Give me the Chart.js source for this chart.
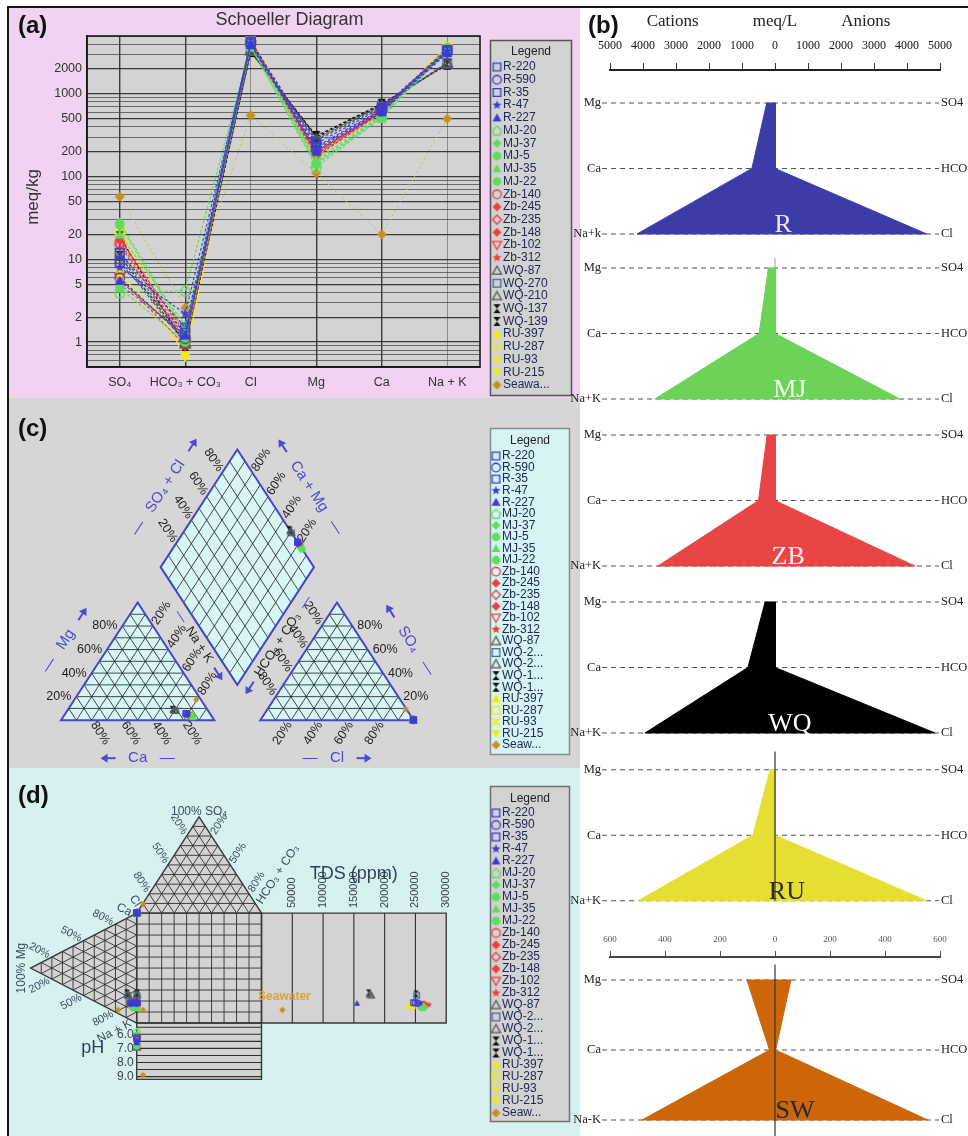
<!DOCTYPE html>
<html>
<head>
<meta charset="utf-8">
<title>Hydrochemical diagrams of brine samples</title>
<script src="https://cdn.jsdelivr.net/npm/chart.js"></script>
<style>
  html, body { margin: 0; padding: 0; background: #ffffff; }
  body { position: relative; width: 968px; height: 1136px; overflow: hidden; }
  .blk { position: absolute; }
  canvas { position: absolute; }
</style>
</head>
<body>
<div class="blk" style="left:8px;top:6px;width:960px;height:2px;background:#151515"></div>
<div class="blk" style="left:7px;top:6px;width:2px;height:1130px;background:#151515"></div>
<div class="blk" style="left:9px;top:8px;width:571px;height:390px;background:#f1d3f1"></div>
<div class="blk" style="left:9px;top:398px;width:571px;height:370px;background:#d6d6d6"></div>
<div class="blk" style="left:9px;top:768px;width:571px;height:368px;background:#d7f1f1"></div>
<canvas id="schoeller" width="580" height="400" style="left:0;top:0"></canvas>
<canvas id="piper" width="580" height="370" style="left:0;top:398px"></canvas>
<canvas id="durov" width="580" height="368" style="left:0;top:768px"></canvas>
<canvas id="stiff" width="402" height="915" style="left:566px;top:0"></canvas>
<canvas id="stiffSW" width="402" height="221" style="left:566px;top:915px"></canvas>
<script>
// ---------------- data (meq/kg) ----------------
const ions = ['SO\u2084', 'HCO\u2083 + CO\u2083', 'Cl', 'Mg', 'Ca', 'Na + K'];
const samples = ['R-220','R-590','R-35','R-47','R-227','MJ-20','MJ-37','MJ-5','MJ-35','MJ-22',
  'Zb-140','Zb-245','Zb-235','Zb-148','Zb-102','Zb-312','WQ-87','WQ-270','WQ-210','WQ-137','WQ-139',
  'RU-397','RU-287','RU-93','RU-215','Seawater'];
const so4  = [9, 6, 12, 8, 5.5, 4, 28, 4.5, 20, 26, 16, 5, 15, 17, 6, 18, 11, 12, 10, 19, 11, 7, 22, 6.5, 20, 57];
const hco3 = [1.3, 1.1, 1.5, 2.2, 1.2, 4.2, 1.4, 1.0, 1.6, 1.3, 1.1, 1.2, 1.0, 1.3, 0.9, 1.2, 1.0, 1.1, 0.95, 0.9, 1.0, 0.75, 1.4, 1.2, 0.65, 2.6];
const cl   = [4200, 4000, 4300, 4100, 3900, 3800, 4400, 3700, 4200, 4100, 4300, 4000, 4200, 4400, 3900, 4500, 3400, 3300, 3350, 3200, 3250, 4600, 4500, 4400, 4700, 550];
const mg   = [230, 210, 250, 220, 200, 130, 150, 140, 160, 145, 190, 180, 200, 185, 175, 195, 280, 270, 290, 310, 300, 190, 200, 180, 195, 110];
const ca   = [650, 620, 680, 640, 600, 520, 540, 510, 560, 530, 620, 600, 630, 610, 590, 640, 720, 700, 730, 760, 740, 590, 610, 600, 600, 20];
const nak  = [3300, 3200, 3400, 3300, 3100, 3500, 3600, 3400, 3500, 3550, 3500, 3400, 3450, 3550, 3350, 3600, 2400, 2350, 2300, 2250, 2300, 3700, 3700, 3650, 3750, 500];
const tds  = [250000, 254000, 247000, 258000, 155000, 262000, 266000, 258000, 264000, 260000,
  262000, 258000, 264000, 268000, 256000, 272000, 178000, 252000, 176000, 174000, 251000,
  240000, 244000, 246000, 238000, 34000];
const ph   = [6.3, 6.4, 6.2, 6.5, 6.6, 5.8, 6.0, 6.9, 6.1, 6.8, 6.2, 6.3, 6.1, 6.4, 6.2, 6.3,
  6.9, 6.8, 6.9, 6.8, 6.9, 6.0, 6.1, 6.2, 6.05, 8.9];

// legend texts as printed in each panel
const legendA  = ['R-220','R-590','R-35','R-47','R-227','MJ-20','MJ-37','MJ-5','MJ-35','MJ-22',
  'Zb-140','Zb-245','Zb-235','Zb-148','Zb-102','Zb-312','WQ-87','WQ-270','WQ-210','WQ-137','WQ-139',
  'RU-397','RU-287','RU-93','RU-215','Seawa...'];
const legendCD = ['R-220','R-590','R-35','R-47','R-227','MJ-20','MJ-37','MJ-5','MJ-35','MJ-22',
  'Zb-140','Zb-245','Zb-235','Zb-148','Zb-102','Zb-312','WQ-87','WQ-2...','WQ-2...','WQ-1...','WQ-1...',
  'RU-397','RU-287','RU-93','RU-215','Seaw...'];

// Stiff diagram group means (meq/L)
const stiffNames = ['R', 'MJ', 'ZB', 'WQ', 'RU', 'SW'];
const stiffMg   = [250, 200, 240, 300, 150, 102];
const stiffCa   = [700, 480, 500, 820, 670, 20];
const stiffNaK  = [4180, 3640, 3550, 3940, 4150, 484];
const stiffSO4  = [15, 20, 15, 15, 15, 58];
const stiffHCO3 = [2, 2, 2, 2, 2, 2.4];
const stiffCl   = [4600, 3790, 4240, 4850, 4600, 556];

// tick labels
const schoellerTickLabels = [1, 2, 5, 10, 20, 50, 100, 200, 500, 1000, 2000];
const piperPct = [20, 40, 60, 80];
const durovPct = [20, 50, 80];
const tdsTicks = [50000, 100000, 150000, 200000, 250000, 300000];
const phTicks  = [6, 7, 8, 9];

// ---------------- styles ----------------
const SANS = "'Liberation Sans', Arial, sans-serif";
const SERIF = "'Liberation Serif', 'Times New Roman', serif";
Chart.defaults.font.family = SANS;
Chart.defaults.animation = false;
Chart.defaults.events = [];
Chart.defaults.plugins.legend.display = false;
Chart.defaults.plugins.tooltip.enabled = false;

const BLUE = '#3b3bd6', GREEN = '#5cde5c', RED = '#f03c3c', GREY = '#555555', NAVY = '#4a6694',
      BLACK = '#111111', YELLOW = '#f0ee00', SEA = '#c8901a';
const markerSpec = [
  ['square', BLUE, false], ['circle', BLUE, false], ['square', BLUE, false], ['star', BLUE, true], ['triangle', BLUE, true],
  ['house', GREEN, false], ['diamond', GREEN, true], ['circle', GREEN, true], ['triangle', GREEN, true], ['circle', GREEN, true],
  ['circle', RED, false], ['diamond', RED, true], ['diamond', RED, false], ['diamond', RED, true], ['triDown', RED, false], ['star', RED, true],
  ['triangle', GREY, false], ['square', NAVY, false], ['triangle', GREY, false], ['hourglass', BLACK, true], ['hourglass', BLACK, true],
  ['triangle', YELLOW, true], ['square', YELLOW, false], ['cross', YELLOW, false], ['triDown', YELLOW, true],
  ['diamond', SEA, true]
];
const SEA_INDEX = 25;

function makeMarker(shape, color, filled, r) {
  const s = Math.ceil(r * 2 + 4);
  const c = document.createElement('canvas');
  c.width = s; c.height = s;
  const g = c.getContext('2d');
  g.translate(s / 2, s / 2);
  g.lineWidth = 1.3; g.strokeStyle = color; g.fillStyle = color;
  g.beginPath();
  switch (shape) {
    case 'square': g.rect(-r * 0.85, -r * 0.85, r * 1.7, r * 1.7); break;
    case 'circle': g.arc(0, 0, r * 0.95, 0, Math.PI * 2); break;
    case 'triangle': g.moveTo(0, -r); g.lineTo(r, r * 0.8); g.lineTo(-r, r * 0.8); g.closePath(); break;
    case 'triDown': g.moveTo(0, r); g.lineTo(r, -r * 0.8); g.lineTo(-r, -r * 0.8); g.closePath(); break;
    case 'diamond': g.moveTo(0, -r); g.lineTo(r, 0); g.lineTo(0, r); g.lineTo(-r, 0); g.closePath(); break;
    case 'star':
      for (let k = 0; k < 10; k++) {
        const a = -Math.PI / 2 + k * Math.PI / 5, rr = k % 2 ? r * 0.45 : r * 1.05;
        g.lineTo(Math.cos(a) * rr, Math.sin(a) * rr);
      }
      g.closePath(); break;
    case 'house': g.moveTo(0, -r); g.lineTo(r, -0.1 * r); g.lineTo(r * 0.7, r); g.lineTo(-r * 0.7, r); g.lineTo(-r, -0.1 * r); g.closePath(); break;
    case 'hourglass': g.moveTo(-r * 0.8, -r); g.lineTo(r * 0.8, -r); g.lineTo(-r * 0.8, r); g.lineTo(r * 0.8, r); g.closePath(); break;
    case 'cross': g.lineWidth = 2; g.moveTo(-r * 0.8, -r * 0.8); g.lineTo(r * 0.8, r * 0.8); g.moveTo(r * 0.8, -r * 0.8); g.lineTo(-r * 0.8, r * 0.8); break;
  }
  if (filled && shape !== 'cross') g.fill(); else g.stroke();
  return c;
}
const markersBig   = markerSpec.map(m => makeMarker(m[0], m[1], m[2], 5));
const markersLeg   = markerSpec.map(m => makeMarker(m[0], m[1], m[2], 4.5));
const markersSmall = markerSpec.map(m => makeMarker(m[0], m[1], m[2], 3.2));

// ---------------- drawing helpers ----------------
function lerp(U, V, t) { return [U[0] + (V[0] - U[0]) * t, U[1] + (V[1] - U[1]) * t]; }
function pathPoly(ctx, pts) {
  ctx.beginPath();
  pts.forEach((p, k) => k ? ctx.lineTo(p[0], p[1]) : ctx.moveTo(p[0], p[1]));
  ctx.closePath();
}
function seg(ctx, p, q) { ctx.beginPath(); ctx.moveTo(p[0], p[1]); ctx.lineTo(q[0], q[1]); ctx.stroke(); }
function triGrid(ctx, P, A, B, C, n) {
  [[A, B, C], [B, C, A], [C, A, B]].forEach(([V, U, W]) => {
    for (let k = 1; k < n; k++) seg(ctx, P(lerp(V, U, k / n)), P(lerp(V, W, k / n)));
  });
}
// text laid along a direction (dx, dy) starting a little off point p
function rayText(ctx, p, dir, text, gap) {
  let [dx, dy] = dir; const len = Math.hypot(dx, dy); dx /= len; dy /= len;
  ctx.save();
  ctx.translate(p[0] + dx * gap, p[1] + dy * gap);
  if (dx >= -1e-6) { ctx.rotate(Math.atan2(dy, dx)); ctx.textAlign = 'left'; }
  else { ctx.rotate(Math.atan2(-dy, -dx)); ctx.textAlign = 'right'; }
  ctx.textBaseline = 'middle';
  ctx.fillText(text, 0, 0);
  ctx.restore();
}
// multi-part caption centred on (x, y) and rotated; parts are text runs or drawn arrows
const ARROW_LEN = 15;
function partsText(ctx, x, y, rot, parts, font) {
  ctx.save();
  ctx.translate(x, y); ctx.rotate(rot);
  ctx.font = font;
  const w = parts.map(p => (p[0] === '>' || p[0] === '<') ? ARROW_LEN : ctx.measureText(p[0]).width);
  let cx = -w.reduce((a, b) => a + b, 0) / 2;
  ctx.textAlign = 'left'; ctx.textBaseline = 'middle';
  parts.forEach((p, k) => {
    ctx.fillStyle = p[1]; ctx.strokeStyle = p[1];
    if (p[0] === '>' || p[0] === '<') {
      const tip = p[0] === '>' ? cx + w[k] : cx, tail = p[0] === '>' ? cx : cx + w[k], s = p[0] === '>' ? -1 : 1;
      ctx.lineWidth = 2;
      ctx.beginPath(); ctx.moveTo(tail, 0); ctx.lineTo(tip + s * 3, 0); ctx.stroke();
      ctx.beginPath(); ctx.moveTo(tip, 0); ctx.lineTo(tip + s * 7, -4.5); ctx.lineTo(tip + s * 7, 4.5); ctx.closePath(); ctx.fill();
    } else {
      ctx.fillText(p[0], cx, 0);
    }
    cx += w[k];
  });
  ctx.restore();
}
// title placed beside an edge p->q, pushed away from a centre point
function edgeTitle(ctx, P, p, q, frac, dist, centre, parts, font) {
  const a = P(p), b = P(q), c = P(centre);
  const m = [a[0] + (b[0] - a[0]) * frac, a[1] + (b[1] - a[1]) * frac];
  let nx = -(b[1] - a[1]), ny = b[0] - a[0];
  const l = Math.hypot(nx, ny); nx /= l; ny /= l;
  if (nx * (m[0] - c[0]) + ny * (m[1] - c[1]) < 0) { nx = -nx; ny = -ny; }
  partsText(ctx, m[0] + nx * dist, m[1] + ny * dist, Math.atan2(b[1] - a[1], b[0] - a[0]), parts, font);
}
function drawLegend(ctx, box, labels, markers) {
  ctx.save();
  ctx.fillStyle = box.bg;
  ctx.fillRect(box.x0, box.y0, box.x1 - box.x0, box.y1 - box.y0);
  ctx.strokeStyle = box.edge; ctx.lineWidth = 1.5;
  ctx.strokeRect(box.x0 + 0.5, box.y0 + 0.5, box.x1 - box.x0 - 1, box.y1 - box.y0 - 1);
  ctx.font = '12px ' + SANS; ctx.fillStyle = '#222';
  ctx.textAlign = 'center'; ctx.textBaseline = 'middle';
  ctx.fillText('Legend', (box.x0 + box.x1) / 2, box.titleY);
  ctx.textAlign = 'left';
  labels.forEach((lab, k) => {
    const y = box.firstY + k * box.step, m = markers[k];
    ctx.drawImage(m, box.mx - m.width / 2, y - m.height / 2);
    ctx.fillStyle = '#202a58';
    ctx.fillText(lab, box.tx, y);
  });
  ctx.restore();
}
function panelTag(ctx, tag, x, y) {
  ctx.save();
  ctx.font = 'bold 24px ' + SANS; ctx.fillStyle = '#111';
  ctx.textAlign = 'left'; ctx.textBaseline = 'middle';
  ctx.fillText(tag, x, y);
  ctx.restore();
}

// ---------------- (a) Schoeller diagram ----------------
const schoellerGrid = [];
[0.1, 1, 10, 100, 1000].forEach(d => [1, 2, 3, 4, 5, 6, 7, 8, 9].forEach(m => {
  const v = +(m * d).toPrecision(3);
  if (v >= 0.5 && v <= 5000) schoellerGrid.push(v);
}));
const isLabelled = v => schoellerTickLabels.some(t => Math.abs(t - v) < t * 1e-6);
const lineColour = i => i === SEA_INDEX ? '#d9b25a' : markerSpec[i][1];

const schoellerDecor = {
  id: 'schoellerDecor',
  beforeDraw(chart) {
    const {ctx, chartArea: a} = chart;
    ctx.save(); ctx.fillStyle = '#d3d3d3';
    ctx.fillRect(a.left, a.top, a.right - a.left, a.bottom - a.top);
    ctx.restore();
  },
  beforeDatasetsDraw(chart) {
    const {ctx, chartArea: a} = chart;
    ctx.save(); ctx.strokeStyle = '#1a1a1a'; ctx.lineWidth = 1.6;
    ctx.strokeRect(a.left, a.top, a.right - a.left, a.bottom - a.top);
    ctx.restore();
  },
  afterDraw(chart) {
    const {ctx, chartArea: a} = chart;
    ctx.save();
    ctx.fillStyle = '#333'; ctx.textAlign = 'center'; ctx.textBaseline = 'middle';
    ctx.font = '18px ' + SANS;
    ctx.fillText('Schoeller Diagram', (a.left + a.right) / 2 + 6, 20);
    ctx.translate(33, 197); ctx.rotate(-Math.PI / 2);
    ctx.font = '17px ' + SANS; ctx.fillText('meq/kg', 0, 0);
    ctx.restore();
    panelTag(ctx, '(a)', 18, 26);
    drawLegend(ctx, {x0: 490, y0: 40, x1: 572, y1: 396, bg: '#d2d2d2', edge: '#555',
      titleY: 52, firstY: 67, step: 12.72, mx: 497, tx: 503}, legendA, markersLeg);
  }
};

new Chart(document.getElementById('schoeller'), {
  type: 'line',
  data: {
    labels: ions,
    datasets: samples.map((name, i) => ({
      label: name,
      data: [so4[i], hco3[i], cl[i], mg[i], ca[i], nak[i]],
      borderColor: lineColour(i),
      borderWidth: i === SEA_INDEX ? 1 : 1.1,
      borderDash: i === SEA_INDEX ? [2, 3] : [3, 2],
      pointStyle: markersBig[i],
      pointRadius: 5,
      fill: false,
      tension: 0
    }))
  },
  options: {
    responsive: false,
    layout: {padding: {left: 0, top: 36, right: 100, bottom: 0}},
    scales: {
      x: {
        offset: true,
        grid: {offset: false, drawTicks: false,
          color: c => [2, 5].includes(c.index) ? '#8c8c8c' : '#3c3c3c',
          lineWidth: c => [2, 5].includes(c.index) ? 1 : 1.4},
        border: {display: true, color: '#111', width: 1.6},
        ticks: {color: '#333', font: {size: 12.5}, padding: 8, maxRotation: 0, autoSkip: false},
        afterFit(s) { s.height = 33; }
      },
      y: {
        type: 'logarithmic', min: 0.5, max: 5000,
        afterBuildTicks(s) { s.ticks = schoellerGrid.map(v => ({value: v})); },
        ticks: {autoSkip: false, color: '#333', font: {size: 12.5}, padding: 5,
          callback: v => isLabelled(v) ? String(v) : ''},
        grid: {drawTicks: false,
          color: c => c.tick && isLabelled(c.tick.value) ? 'rgba(40,40,40,0.9)' : 'rgba(70,70,70,0.75)',
          lineWidth: c => c.tick && isLabelled(c.tick.value) ? 1.2 : 1},
        border: {display: true, color: '#111', width: 1.6},
        afterFit(s) { s.width = 87; }
      }
    }
  },
  plugins: [schoellerDecor]
});

// ---------------- shared ion shares ----------------
function ionShares(i) {
  const cat = ca[i] + mg[i] + nak[i], an = so4[i] + hco3[i] + cl[i];
  return {ca: 100 * ca[i] / cat, mg: 100 * mg[i] / cat, nak: 100 * nak[i] / cat,
          so4: 100 * so4[i] / an, hco3: 100 * hco3[i] / an, cl: 100 * cl[i] / an};
}

// ---------------- (c) Piper diagram ----------------
const H = 0.866;
const PIPER = {
  cat: [[0, 0], [100, 0], [50, 86.6]],
  an: [[130, 0], [230, 0], [180, 86.6]],
  dia: [[65, 112.58], [115, 199.18], [165, 112.58], [115, 25.98]]
};
function piperPoints(i) {
  const s = ionShares(i), a = s.so4 + s.cl, c = s.nak;
  return [
    {x: s.nak + s.mg / 2, y: s.mg * H},
    {x: 130 + s.cl + s.so4 / 2, y: s.so4 * H},
    {x: 65 + (a + c) / 2, y: 112.58 + (a - c) * H}
  ];
}
const PBLUE = '#4a4ad2', PDARK = '#1e1e1e';
const piperDecor = {
  id: 'piperDecor',
  beforeDatasetsDraw(chart) {
    const {ctx} = chart, sx = chart.scales.x, sy = chart.scales.y;
    const P = p => [sx.getPixelForValue(p[0]), sy.getPixelForValue(p[1])];
    const d = (p, q) => { const a = P(p), b = P(q); return [b[0] - a[0], b[1] - a[1]]; };
    const [A, B, C] = PIPER.cat, [A2, B2, C2] = PIPER.an, [L, T, R, Bd] = PIPER.dia;
    const shapes = [PIPER.cat, PIPER.an, PIPER.dia];
    ctx.save();
    ctx.fillStyle = '#d8f6f6';
    shapes.forEach(s => { pathPoly(ctx, s.map(P)); ctx.fill(); });
    ctx.strokeStyle = '#1c1c1c'; ctx.lineWidth = 0.8;
    triGrid(ctx, P, A, B, C, 10); triGrid(ctx, P, A2, B2, C2, 10);
    for (let k = 1; k < 10; k++) {
      const t = k / 10;
      seg(ctx, P(lerp(L, T, t)), P(lerp(Bd, R, t)));
      seg(ctx, P(lerp(L, Bd, t)), P(lerp(T, R, t)));
    }
    ctx.strokeStyle = '#4646c8'; ctx.lineWidth = 2;
    shapes.forEach(s => { pathPoly(ctx, s.map(P)); ctx.stroke(); });

    ctx.font = '12.5px ' + SANS; ctx.fillStyle = PDARK;
    piperPct.forEach(t => {
      const s = t + '%';
      rayText(ctx, P(lerp(A, C, t / 100)), [-1, 0], s, 5);
      rayText(ctx, P([100 - t, 0]), d(C, B), s, 3);
      rayText(ctx, P(lerp(C, B, t / 100)), d(A, C), s, 3);
      rayText(ctx, P(lerp(C2, A2, t / 100)), d(B2, C2), s, 3);
      rayText(ctx, P(lerp(B2, C2, t / 100)), [1, 0], s, 5);
      rayText(ctx, P([130 + t, 0]), d(C2, A2), s, 3);
      rayText(ctx, P(lerp(L, T, t / 100)), d(Bd, L), s, 3);
      rayText(ctx, P(lerp(R, T, t / 100)), d(L, T), s, 3);
    });
    const F = '15px ' + SANS, centreD = [115, 112.58], centreC = [50, 28.9], centreA = [180, 28.9];
    const fwd = (txt, col) => [['\u2014   ', PBLUE], [txt, col || PBLUE], ['   ', PBLUE], ['>', PBLUE]];
    const back = (txt, col) => [['<', PBLUE], ['   ' + txt + '   ', col || PBLUE], ['\u2014', PBLUE]];
    edgeTitle(ctx, P, L, T, 0.5, 40, centreD, fwd('SO\u2084 + Cl'), F);
    edgeTitle(ctx, P, T, R, 0.5, 40, centreD, back('Ca + Mg'), F);
    edgeTitle(ctx, P, A, C, 0.5, 40, centreC, fwd('Mg'), F);
    edgeTitle(ctx, P, A, B, 0.5, 38, centreC, back('Ca'), F);
    edgeTitle(ctx, P, C2, B2, 0.5, 40, centreA, back('SO\u2084'), F);
    edgeTitle(ctx, P, A2, B2, 0.5, 38, centreA, fwd('Cl'), F);
    edgeTitle(ctx, P, L, Bd, 0.62, 10, centreD,
      [['\u2014  ', PBLUE], ['Na + K', PDARK], ['  ', PBLUE], ['>', PBLUE]], '13px ' + SANS);
    edgeTitle(ctx, P, Bd, R, 0.39, 12, centreD,
      [['<', PBLUE], ['  HCO\u2083 + CO\u2083  ', PDARK], ['\u2014', PBLUE]], '13px ' + SANS);
    ctx.restore();
  },
  afterDraw(chart) {
    const {ctx} = chart;
    panelTag(ctx, '(c)', 18, 31);
    drawLegend(ctx, {x0: 490, y0: 30, x1: 570, y1: 357, bg: '#d6f4f4', edge: '#8a8a8a',
      titleY: 43, firstY: 58, step: 11.56, mx: 496, tx: 502}, legendCD, markersLeg);
  }
};
new Chart(document.getElementById('piper'), {
  type: 'scatter',
  data: {
    datasets: samples.map((name, i) => ({
      label: name, data: piperPoints(i), pointStyle: markersSmall[i], pointRadius: 4
    }))
  },
  options: {
    responsive: false,
    layout: {padding: 0},
    scales: {
      x: {type: 'linear', display: false, min: -36.54, max: 335.26},
      y: {type: 'linear', display: false, min: -31.5, max: 233.36}
    }
  },
  plugins: [piperDecor]
});

// ---------------- (d) Durov diagram ----------------
const DUROV = {T: [50, -87.6], BL: [0, 0], BR: [100, 0], CA: [0, 0], NK: [0, 100], MG: [-85, 50]};
const tdsX = v => 100 + v / 300000 * 148;
const phY = p => 100 + (p - 5.2) / 4 * 51.3;
function durovPoints(i) {
  const s = ionShares(i), ax = s.hco3 + s.so4 / 2, cy = s.nak + s.mg / 2;
  return [
    {x: ax, y: -s.so4 * 0.876},
    {x: -s.mg * 0.85, y: cy},
    {x: ax, y: cy},
    {x: tdsX(tds[i]), y: cy},
    {x: ax, y: phY(ph[i])}
  ];
}
const DTEXT = '#3a4c5c';
const durovDecor = {
  id: 'durovDecor',
  beforeDatasetsDraw(chart) {
    const {ctx} = chart, sx = chart.scales.x, sy = chart.scales.y;
    const P = p => [sx.getPixelForValue(p[0]), sy.getPixelForValue(p[1])];
    const d = (p, q) => { const a = P(p), b = P(q); return [b[0] - a[0], b[1] - a[1]]; };
    const {T, BL, BR, CA, NK, MG} = DUROV;
    const sq = [[0, 0], [100, 0], [100, 100], [0, 100]];
    const tdsRect = [[100, 0], [tdsX(300000), 0], [tdsX(300000), 100], [100, 100]];
    const phRect = [[0, 100], [100, 100], [100, phY(9.2)], [0, phY(9.2)]];
    const shapes = [[BL, BR, T], [CA, NK, MG], sq, tdsRect, phRect];
    ctx.save();
    ctx.fillStyle = '#d3d3d3';
    shapes.forEach(s => { pathPoly(ctx, s.map(P)); ctx.fill(); });
    ctx.strokeStyle = '#2f2f2f'; ctx.lineWidth = 0.9;
    triGrid(ctx, P, BL, BR, T, 10); triGrid(ctx, P, CA, NK, MG, 10);
    for (let k = 10; k < 100; k += 10) { seg(ctx, P([k, 0]), P([k, 100])); seg(ctx, P([0, k]), P([100, k])); }
    ctx.lineWidth = 1.1;
    tdsTicks.slice(0, -1).forEach(v => seg(ctx, P([tdsX(v), 0]), P([tdsX(v), 100])));
    for (let p = 5.5; p < 9.01; p += 0.5) seg(ctx, P([0, phY(p)]), P([100, phY(p)]));
    ctx.strokeStyle = '#3a3a3a'; ctx.lineWidth = 1.4;
    shapes.forEach(s => { pathPoly(ctx, s.map(P)); ctx.stroke(); });

    // triangle labels
    ctx.fillStyle = DTEXT; ctx.font = '11px ' + SANS;
    durovPct.forEach(t => {
      const s = t + '%';
      rayText(ctx, P(lerp(T, BL, t / 100)), d(BR, T), s, 3);
      rayText(ctx, P(lerp(T, BR, t / 100)), d(BL, T), s, 3);
      rayText(ctx, P(lerp(MG, CA, t / 100)), d(NK, MG), s, 3);
      rayText(ctx, P(lerp(MG, NK, t / 100)), d(CA, MG), s, 3);
    });
    ctx.font = '12px ' + SANS;
    rayText(ctx, P(lerp(T, BL, 0.95)), d(BR, T), 'Cl', 3);
    rayText(ctx, P(lerp(T, BR, 0.93)), d(BL, T), 'HCO\u2083 + CO\u2083', 4);
    rayText(ctx, P(lerp(MG, CA, 0.97)), d(NK, MG), 'Ca', 3);
    rayText(ctx, P(lerp(MG, NK, 0.97)), d(CA, MG), 'Na + K', 3);
    const apex = P(T);
    ctx.textAlign = 'center'; ctx.textBaseline = 'bottom';
    ctx.fillText('100% SO\u2084', apex[0], apex[1] + 1);
    const mgA = P(MG);
    ctx.save(); ctx.translate(mgA[0] - 9, mgA[1]); ctx.rotate(-Math.PI / 2);
    ctx.textBaseline = 'middle'; ctx.fillText('100% Mg', 0, 0); ctx.restore();

    // TDS axis
    ctx.font = '11px ' + SANS; ctx.fillStyle = '#3a4450';
    tdsTicks.forEach(v => {
      const p = P([tdsX(v), 0]);
      ctx.save(); ctx.translate(p[0], p[1] - 5); ctx.rotate(-Math.PI / 2);
      ctx.textAlign = 'left'; ctx.textBaseline = 'middle';
      ctx.fillText(String(v), 0, 0); ctx.restore();
    });
    const tc = P([tdsX(150000), 0]);
    ctx.font = '18px ' + SANS; ctx.fillStyle = '#2e3f5c';
    ctx.textAlign = 'center'; ctx.textBaseline = 'middle';
    ctx.fillText('TDS (ppm)', tc[0], tc[1] - 39);

    // pH axis
    ctx.font = '12px ' + SANS; ctx.fillStyle = '#3a4450'; ctx.textAlign = 'right';
    phTicks.forEach(v => { const p = P([0, phY(v)]); ctx.fillText(v.toFixed(1), p[0] - 3, p[1]); });
    const pp = P([0, phY(7)]);
    ctx.font = '18px ' + SANS; ctx.fillStyle = '#2e3f5c'; ctx.textAlign = 'center';
    ctx.fillText('pH', pp[0] - 44, pp[1]);
    ctx.restore();
  },
  afterDatasetsDraw(chart) {
    const {ctx} = chart;
    const el = chart.getDatasetMeta(SEA_INDEX).data[3];
    ctx.save();
    ctx.font = 'bold 12px ' + SANS; ctx.fillStyle = '#d9a531';
    ctx.textAlign = 'center'; ctx.textBaseline = 'middle';
    ctx.fillText('Seawater', el.x + 2, el.y - 13);
    ctx.restore();
  },
  afterDraw(chart) {
    const {ctx} = chart;
    panelTag(ctx, '(d)', 18, 28);
    drawLegend(ctx, {x0: 490, y0: 18, x1: 570, y1: 354, bg: '#d2d2d2', edge: '#707070',
      titleY: 31, firstY: 45, step: 12.0, mx: 496, tx: 502}, legendCD, markersLeg);
  }
};
new Chart(document.getElementById('durov'), {
  type: 'scatter',
  data: {
    datasets: samples.map((name, i) => ({
      label: name, data: durovPoints(i), pointStyle: markersSmall[i], pointRadius: 4
    }))
  },
  options: {
    responsive: false,
    layout: {padding: 0},
    scales: {
      x: {type: 'linear', display: false, min: -105.51, max: 351.18},
      y: {type: 'linear', display: false, reverse: true, min: -127.43, max: 198.23}
    }
  },
  plugins: [durovDecor]
});

// ---------------- (b) Stiff diagrams ----------------
const STIFF_FILL = ['#3c3ca8', '#6cd258', '#e84646', '#000000', '#e6de32', '#cc6608'];
const STIFF_TEXT = ['#e8e8ff', '#f4fff0', '#fff0f0', '#ffffff', '#2a2a2a', '#2a2a2a'];
const stiffBases = [0, 2.519, 5.069, 7.618, 10.18];     // row offsets of the five upper diagrams
const stiffLabelAt = [250, 450, 400, 450, 360];          // x (meq/L) of the group name
const cationRows = [['Mg', 'Ca', 'Na+k'], ['Mg', 'Ca', 'Na+K'], ['Mg', 'Ca', 'Na+K'], ['Mg', 'Ca', 'Na+K'], ['Mg', 'Ca', 'Na+K'], ['Mg', 'Ca', 'Na-K']];
const anionRows = ['SO4', 'HCO3', 'Cl'];

function stiffPolygon(k, base) {
  return [
    {x: -stiffMg[k], y: base}, {x: -stiffCa[k], y: base + 1}, {x: -stiffNaK[k], y: base + 2},
    {x: stiffCl[k], y: base + 2}, {x: stiffHCO3[k], y: base + 1}, {x: stiffSO4[k], y: base},
    {x: -stiffMg[k], y: base}
  ];
}
function stiffRows(chart, groups, bases) {
  const {ctx, chartArea: a} = chart, y = chart.scales.y;
  ctx.save();
  groups.forEach((k, j) => {
    for (let r = 0; r < 3; r++) {
      const py = y.getPixelForValue(bases[j] + r);
      ctx.setLineDash([5, 4]); ctx.strokeStyle = '#555'; ctx.lineWidth = 1.1;
      ctx.beginPath(); ctx.moveTo(a.left - 8, py); ctx.lineTo(a.right - 1, py); ctx.stroke();
      ctx.setLineDash([]);
      ctx.font = '12.5px ' + SERIF; ctx.fillStyle = '#222'; ctx.textBaseline = 'middle';
      ctx.textAlign = 'right'; ctx.fillText(cationRows[k][r], a.left - 9, py);
      ctx.textAlign = 'left'; ctx.fillText(anionRows[r], a.right + 1, py);
    }
  });
  ctx.restore();
}
function stiffGroupNames(chart, groups, bases, at) {
  const {ctx} = chart, x = chart.scales.x, y = chart.scales.y;
  ctx.save();
  ctx.font = '26px ' + SERIF; ctx.textAlign = 'center'; ctx.textBaseline = 'alphabetic';
  groups.forEach((k, j) => {
    ctx.fillStyle = STIFF_TEXT[k];
    ctx.fillText(stiffNames[k], x.getPixelForValue(at[j]), y.getPixelForValue(bases[j] + 2) - 2);
  });
  ctx.restore();
}
function centreLine(chart, y0, y1, colour, w) {
  const {ctx} = chart, x = chart.scales.x, y = chart.scales.y;
  const px = x.getPixelForValue(0);
  ctx.save(); ctx.strokeStyle = colour; ctx.lineWidth = w;
  ctx.beginPath(); ctx.moveTo(px, y.getPixelForValue(y0)); ctx.lineTo(px, y.getPixelForValue(y1)); ctx.stroke();
  ctx.restore();
}
const stiffDecor = {
  id: 'stiffDecor',
  beforeDatasetsDraw(chart) {
    const {ctx} = chart, x = chart.scales.x;
    ctx.save();
    ctx.font = '17px ' + SERIF; ctx.fillStyle = '#222';
    ctx.textAlign = 'center'; ctx.textBaseline = 'middle';
    ctx.fillText('Cations', x.getPixelForValue(-3100), 22);
    ctx.fillText('meq/L', x.getPixelForValue(0), 22);
    ctx.fillText('Anions', x.getPixelForValue(2750), 22);
    ctx.restore();
    panelTag(ctx, '(b)', 22, 26);
    stiffRows(chart, [0, 1, 2, 3, 4], stiffBases);
    centreLine(chart, stiffBases[1] - 0.15, stiffBases[1] + 2, '#9a9a9a', 1);
  },
  afterDatasetsDraw(chart) {
    centreLine(chart, stiffBases[4] - 0.28, stiffBases[4] + 2, '#333', 1.2);
    stiffGroupNames(chart, [0, 1, 2, 3, 4], stiffBases, stiffLabelAt);
  }
};
new Chart(document.getElementById('stiff'), {
  type: 'scatter',
  data: {
    datasets: [0, 1, 2, 3, 4].map(k => ({
      label: stiffNames[k], data: stiffPolygon(k, stiffBases[k]),
      showLine: true, fill: 'shape', tension: 0,
      backgroundColor: STIFF_FILL[k], borderColor: STIFF_FILL[k], borderWidth: 1, pointRadius: 0
    }))
  },
  options: {
    responsive: false,
    layout: {padding: {left: 44, right: 28, top: 0, bottom: 0}},
    scales: {
      x: {type: 'linear', position: 'top', min: -5000, max: 5000,
        ticks: {stepSize: 1000, callback: v => String(Math.abs(v)), font: {family: SERIF, size: 12},
          color: '#111', padding: 10, maxRotation: 0, autoSkip: false},
        grid: {drawOnChartArea: false, drawTicks: true, tickLength: 7, color: '#333', lineWidth: 1},
        border: {display: true, color: '#222', width: 2},
        afterFit(s) { s.height = 70; }},
      y: {type: 'linear', display: false, reverse: true, min: -0.5038, max: 12.397}
    }
  },
  plugins: [stiffDecor]
});

const stiffDecorSW = {
  id: 'stiffDecorSW',
  beforeDatasetsDraw(chart) {
    stiffRows(chart, [5], [0]);
  },
  afterDatasetsDraw(chart) {
    centreLine(chart, -0.22, 2.23, '#333', 1.2);
    stiffGroupNames(chart, [5], [0], [73]);
  }
};
new Chart(document.getElementById('stiffSW'), {
  type: 'scatter',
  data: {
    datasets: [{
      label: stiffNames[5], data: stiffPolygon(5, 0),
      showLine: true, fill: 'shape', tension: 0,
      backgroundColor: STIFF_FILL[5], borderColor: STIFF_FILL[5], borderWidth: 1, pointRadius: 0
    }]
  },
  options: {
    responsive: false,
    layout: {padding: {left: 44, right: 28, top: 0, bottom: 0}},
    scales: {
      x: {type: 'linear', position: 'top', min: -600, max: 600,
        ticks: {stepSize: 200, callback: v => String(Math.abs(v)), font: {family: SERIF, size: 9},
          color: '#555', padding: 6, maxRotation: 0, autoSkip: false},
        grid: {drawOnChartArea: false, drawTicks: true, tickLength: 6, color: '#555', lineWidth: 1},
        border: {display: true, color: '#444', width: 2},
        afterFit(s) { s.height = 42; }},
      y: {type: 'linear', display: false, reverse: true, min: -0.3286, max: 2.2286}
    }
  },
  plugins: [stiffDecorSW]
});
</script>
</body>
</html>
